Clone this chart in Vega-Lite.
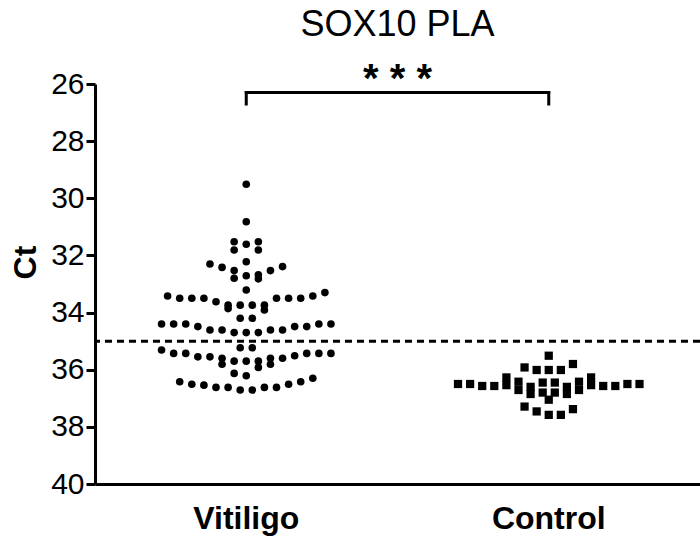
{
  "$schema": "https://vega.github.io/schema/vega-lite/v6.json",
  "width": 605,
  "height": 400,
  "autosize": {"type": "none"},
  "padding": {"left": 95, "top": 84, "right": 0, "bottom": 56},
  "config": {
    "font": "Liberation Sans",
    "view": {"stroke": null},
    "axis": {"grid": false, "domainColor": "black", "tickColor": "black", "labelColor": "black", "titleColor": "black", "domainWidth": 3, "tickWidth": 3}
  },
  "title": {"text": "SOX10 PLA", "fontSize": 36, "fontWeight": "normal", "anchor": "middle", "offset": 16, "color": "black"},
  "datasets": {
    "points": [
      {"group": "Vitiligo", "ct": 29.51, "slot": 0},
      {"group": "Vitiligo", "ct": 30.82, "slot": 0},
      {"group": "Vitiligo", "ct": 31.52, "slot": -1},
      {"group": "Vitiligo", "ct": 31.61, "slot": 0},
      {"group": "Vitiligo", "ct": 31.52, "slot": 1},
      {"group": "Vitiligo", "ct": 31.81, "slot": -1},
      {"group": "Vitiligo", "ct": 31.81, "slot": 1},
      {"group": "Vitiligo", "ct": 32.22, "slot": 0},
      {"group": "Vitiligo", "ct": 32.30, "slot": -3},
      {"group": "Vitiligo", "ct": 32.42, "slot": -2},
      {"group": "Vitiligo", "ct": 32.53, "slot": -1},
      {"group": "Vitiligo", "ct": 32.80, "slot": -1},
      {"group": "Vitiligo", "ct": 32.71, "slot": 0},
      {"group": "Vitiligo", "ct": 32.68, "slot": 1},
      {"group": "Vitiligo", "ct": 32.82, "slot": 1},
      {"group": "Vitiligo", "ct": 32.53, "slot": 2},
      {"group": "Vitiligo", "ct": 32.39, "slot": 3},
      {"group": "Vitiligo", "ct": 33.21, "slot": 0},
      {"group": "Vitiligo", "ct": 33.42, "slot": -6.5},
      {"group": "Vitiligo", "ct": 33.50, "slot": -5.5},
      {"group": "Vitiligo", "ct": 33.50, "slot": -4.5},
      {"group": "Vitiligo", "ct": 33.50, "slot": -3.5},
      {"group": "Vitiligo", "ct": 33.62, "slot": -2.5},
      {"group": "Vitiligo", "ct": 33.74, "slot": -1.5},
      {"group": "Vitiligo", "ct": 33.86, "slot": -1.5},
      {"group": "Vitiligo", "ct": 33.74, "slot": -0.5},
      {"group": "Vitiligo", "ct": 33.74, "slot": 0.5},
      {"group": "Vitiligo", "ct": 33.74, "slot": 1.5},
      {"group": "Vitiligo", "ct": 33.91, "slot": 1.5},
      {"group": "Vitiligo", "ct": 33.50, "slot": 2.5},
      {"group": "Vitiligo", "ct": 33.50, "slot": 3.5},
      {"group": "Vitiligo", "ct": 33.50, "slot": 4.5},
      {"group": "Vitiligo", "ct": 33.42, "slot": 5.5},
      {"group": "Vitiligo", "ct": 33.30, "slot": 6.5},
      {"group": "Vitiligo", "ct": 34.20, "slot": -0.5},
      {"group": "Vitiligo", "ct": 34.20, "slot": 0.5},
      {"group": "Vitiligo", "ct": 34.40, "slot": -7},
      {"group": "Vitiligo", "ct": 34.40, "slot": -6},
      {"group": "Vitiligo", "ct": 34.40, "slot": -5},
      {"group": "Vitiligo", "ct": 34.49, "slot": -4},
      {"group": "Vitiligo", "ct": 34.61, "slot": -3},
      {"group": "Vitiligo", "ct": 34.61, "slot": -2},
      {"group": "Vitiligo", "ct": 34.70, "slot": -1},
      {"group": "Vitiligo", "ct": 34.70, "slot": 0},
      {"group": "Vitiligo", "ct": 34.70, "slot": 1},
      {"group": "Vitiligo", "ct": 34.61, "slot": 2},
      {"group": "Vitiligo", "ct": 34.61, "slot": 3},
      {"group": "Vitiligo", "ct": 34.49, "slot": 4},
      {"group": "Vitiligo", "ct": 34.49, "slot": 5},
      {"group": "Vitiligo", "ct": 34.40, "slot": 6},
      {"group": "Vitiligo", "ct": 34.40, "slot": 7},
      {"group": "Vitiligo", "ct": 35.23, "slot": -0.5},
      {"group": "Vitiligo", "ct": 35.23, "slot": 0.5},
      {"group": "Vitiligo", "ct": 35.31, "slot": -7},
      {"group": "Vitiligo", "ct": 35.43, "slot": -6},
      {"group": "Vitiligo", "ct": 35.43, "slot": -5},
      {"group": "Vitiligo", "ct": 35.55, "slot": -4},
      {"group": "Vitiligo", "ct": 35.55, "slot": -3},
      {"group": "Vitiligo", "ct": 35.60, "slot": -2},
      {"group": "Vitiligo", "ct": 35.81, "slot": -2},
      {"group": "Vitiligo", "ct": 35.70, "slot": -1},
      {"group": "Vitiligo", "ct": 35.70, "slot": 0},
      {"group": "Vitiligo", "ct": 35.70, "slot": 1},
      {"group": "Vitiligo", "ct": 35.92, "slot": 1},
      {"group": "Vitiligo", "ct": 35.60, "slot": 2},
      {"group": "Vitiligo", "ct": 35.81, "slot": 2},
      {"group": "Vitiligo", "ct": 35.60, "slot": 3},
      {"group": "Vitiligo", "ct": 35.51, "slot": 4},
      {"group": "Vitiligo", "ct": 35.43, "slot": 5},
      {"group": "Vitiligo", "ct": 35.43, "slot": 6},
      {"group": "Vitiligo", "ct": 35.43, "slot": 7},
      {"group": "Vitiligo", "ct": 36.13, "slot": -1},
      {"group": "Vitiligo", "ct": 36.21, "slot": 0},
      {"group": "Vitiligo", "ct": 36.42, "slot": -5.5},
      {"group": "Vitiligo", "ct": 36.51, "slot": -4.5},
      {"group": "Vitiligo", "ct": 36.54, "slot": -3.5},
      {"group": "Vitiligo", "ct": 36.62, "slot": -2.5},
      {"group": "Vitiligo", "ct": 36.62, "slot": -1.5},
      {"group": "Vitiligo", "ct": 36.71, "slot": -0.5},
      {"group": "Vitiligo", "ct": 36.71, "slot": 0.5},
      {"group": "Vitiligo", "ct": 36.62, "slot": 1.5},
      {"group": "Vitiligo", "ct": 36.62, "slot": 2.5},
      {"group": "Vitiligo", "ct": 36.51, "slot": 3.5},
      {"group": "Vitiligo", "ct": 36.42, "slot": 4.5},
      {"group": "Vitiligo", "ct": 36.30, "slot": 5.5},
      {"group": "Control", "ct": 35.51, "slot": 0},
      {"group": "Control", "ct": 35.92, "slot": -2},
      {"group": "Control", "ct": 36.01, "slot": -1},
      {"group": "Control", "ct": 36.01, "slot": 0},
      {"group": "Control", "ct": 36.01, "slot": 1},
      {"group": "Control", "ct": 35.80, "slot": 2},
      {"group": "Control", "ct": 36.50, "slot": -7.5},
      {"group": "Control", "ct": 36.50, "slot": -6.5},
      {"group": "Control", "ct": 36.57, "slot": -5.5},
      {"group": "Control", "ct": 36.57, "slot": -4.5},
      {"group": "Control", "ct": 36.27, "slot": -3.5},
      {"group": "Control", "ct": 36.54, "slot": -3.5},
      {"group": "Control", "ct": 36.42, "slot": -2.5},
      {"group": "Control", "ct": 36.71, "slot": -2.5},
      {"group": "Control", "ct": 36.60, "slot": -1.5},
      {"group": "Control", "ct": 36.85, "slot": -1.5},
      {"group": "Control", "ct": 36.45, "slot": -0.5},
      {"group": "Control", "ct": 36.80, "slot": -0.5},
      {"group": "Control", "ct": 36.45, "slot": 0.5},
      {"group": "Control", "ct": 36.80, "slot": 0.5},
      {"group": "Control", "ct": 36.60, "slot": 1.5},
      {"group": "Control", "ct": 36.85, "slot": 1.5},
      {"group": "Control", "ct": 36.42, "slot": 2.5},
      {"group": "Control", "ct": 36.71, "slot": 2.5},
      {"group": "Control", "ct": 36.27, "slot": 3.5},
      {"group": "Control", "ct": 36.54, "slot": 3.5},
      {"group": "Control", "ct": 36.57, "slot": 4.5},
      {"group": "Control", "ct": 36.57, "slot": 5.5},
      {"group": "Control", "ct": 36.50, "slot": 6.5},
      {"group": "Control", "ct": 36.50, "slot": 7.5},
      {"group": "Control", "ct": 37.05, "slot": 0},
      {"group": "Control", "ct": 37.29, "slot": -2},
      {"group": "Control", "ct": 37.46, "slot": -1},
      {"group": "Control", "ct": 37.58, "slot": 0},
      {"group": "Control", "ct": 37.58, "slot": 1},
      {"group": "Control", "ct": 37.38, "slot": 2}
    ],
    "cutoff": [{"ct": 35}],
    "bracket": [
      {"from": "Vitiligo", "to": "Control", "top": 26.3, "foot": 26.7, "label": "* * *", "labelY": 25.85}
    ],
    "legs": [
      {"group": "Vitiligo", "top": 26.3, "foot": 26.7},
      {"group": "Control", "top": 26.3, "foot": 26.7}
    ]
  },
  "layer": [
    {
      "data": {"name": "points"},
      "mark": {"type": "point", "filled": true, "opacity": 1, "color": "black"},
      "encoding": {
        "x": {"field": "group", "type": "nominal", "sort": ["Vitiligo", "Control"],
              "scale": {"domain": ["Vitiligo", "Control"], "paddingInner": 0, "paddingOuter": 0},
              "axis": {"title": null, "ticks": false, "labelFontSize": 32, "labelFontWeight": "bold", "labelPadding": 19, "labelAngle": 0}},
        "xOffset": {"field": "slot", "type": "quantitative", "scale": {"domain": [-12.5, 12.5]}},
        "y": {"field": "ct", "type": "quantitative",
              "scale": {"domain": [26, 40], "reverse": true, "nice": false, "zero": false},
              "axis": {"values": [26, 28, 30, 32, 34, 36, 38, 40], "tickSize": 9, "labelFontSize": 30, "labelPadding": 2,
                       "title": "Ct", "titleFontSize": 32, "titleFontWeight": "bold", "titlePadding": 8, "titleY": 178}},
        "shape": {"field": "group", "type": "nominal", "scale": {"domain": ["Vitiligo", "Control"], "range": ["circle", "square"]}, "legend": null},
        "size": {"field": "group", "type": "nominal", "scale": {"domain": ["Vitiligo", "Control"], "range": [58, 68]}, "legend": null}
      }
    },
    {
      "data": {"name": "cutoff"},
      "mark": {"type": "rule", "strokeDash": [7, 5], "strokeWidth": 3, "color": "black"},
      "encoding": {"y": {"field": "ct", "type": "quantitative"}}
    },
    {
      "data": {"name": "bracket"},
      "mark": {"type": "rule", "strokeWidth": 3, "color": "black", "strokeCap": "square", "clip": false},
      "encoding": {
        "x": {"field": "from", "type": "nominal", "bandPosition": 0.5},
        "x2": {"field": "to", "bandPosition": 0.5},
        "y": {"field": "top", "type": "quantitative"}
      }
    },
    {
      "data": {"name": "legs"},
      "mark": {"type": "rule", "strokeWidth": 3, "color": "black", "strokeCap": "square"},
      "encoding": {
        "x": {"field": "group", "type": "nominal", "bandPosition": 0.5},
        "y": {"field": "top", "type": "quantitative"},
        "y2": {"field": "foot"}
      }
    },
    {
      "data": {"name": "bracket"},
      "mark": {"type": "text", "fontSize": 40, "fontWeight": "bold", "color": "black", "baseline": "middle", "clip": false},
      "encoding": {
        "x": {"field": "from", "type": "nominal", "bandPosition": 1},
        "y": {"field": "labelY", "type": "quantitative"},
        "text": {"field": "label"}
      }
    }
  ]
}
